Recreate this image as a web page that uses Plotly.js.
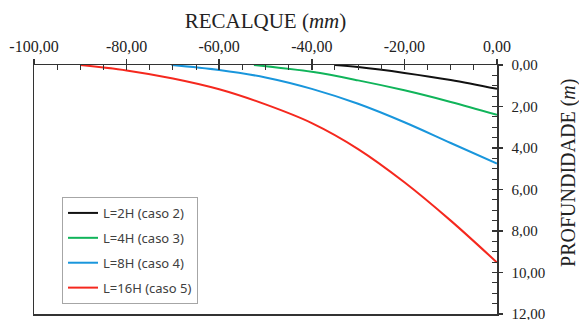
<!DOCTYPE html>
<html><head><meta charset="utf-8">
<script src="https://cdn.plot.ly/plotly-3.0.1.min.js"></script>
<style>html,body{margin:0;padding:0;background:#fff}#chart{width:579px;height:320px}</style>
</head><body><div id="chart"></div>
<script>
const seriesNames = ['L=2H (caso 2)', 'L=4H (caso 3)', 'L=8H (caso 4)', 'L=16H (caso 5)'];
const seriesColors = ['#111111', '#10b45a', '#1996dc', '#f5281e'];
const recalque2H = [-35, -30, -20, -10, 0];
const prof2H = [0, 0.1, 0.38, 0.72, 1.15];
const recalque4H = [-52.5, -40, -30, -20, -10, 0];
const prof4H = [0, 0.33, 0.74, 1.22, 1.78, 2.4];
const recalque8H = [-70.3, -60, -50, -40, -30, -20, -10, 0];
const prof8H = [0, 0.24, 0.6, 1.15, 1.87, 2.76, 3.76, 4.75];
const recalque16H = [-90, -80, -70, -60, -50, -40, -30, -20, -10, 0];
const prof16H = [0, 0.26, 0.65, 1.17, 1.9, 2.8, 4.05, 5.65, 7.5, 9.52];
const xTickVals = [-100, -80, -60, -40, -20, 0];
const yTickVals = [0, 2, 4, 6, 8, 10, 12];

const fmt = v => v.toFixed(2).replace('.', ',');
const xs = [recalque2H, recalque4H, recalque8H, recalque16H];
const ys = [prof2H, prof4H, prof8H, prof16H];
const traces = xs.map((x, i) => ({
  x: x, y: ys[i], type: 'scatter', mode: 'lines', name: seriesNames[i],
  legendgroup: 'g' + i,
  line: {color: seriesColors[i], width: 2, shape: 'spline', smoothing: 1}
}));
traces.push({x: [], y: [], xaxis: 'x2', yaxis: 'y2', showlegend: false, type: 'scatter'});

const serif = 'Liberation Serif, Times New Roman, serif';
const axisCol = '#333333';
const layout = {
  width: 579, height: 320,
  margin: {l: 34, r: 82, t: 65, b: 6},
  paper_bgcolor: '#fff', plot_bgcolor: '#fff',
  showlegend: true,
  legend: {
    x: 0.0605, y: 0.47, xanchor: 'left', yanchor: 'top',
    bgcolor: '#fff', bordercolor: '#a6a6a6', borderwidth: 1,
    font: {family: 'Noto Sans, sans-serif', size: 13, color: '#404040'},
    traceorder: 'grouped', tracegroupgap: 5, itemwidth: 30
  },
  xaxis: {
    side: 'top', range: [-100, 0], tickvals: xTickVals, ticktext: xTickVals.map(fmt),
    showgrid: false, zeroline: false, showline: true, linecolor: axisCol, linewidth: 1.5, mirror: true,
    ticks: 'inside', ticklen: 5, tickcolor: axisCol, tickwidth: 1.5,
    minor: {dtick: 5, ticks: 'inside', ticklen: 5, tickcolor: axisCol, tickwidth: 1},
    tickfont: {family: serif, size: 16, color: '#222'},
    ticklabelstandoff: 5, ticklabeloverflow: 'allow',
    title: {text: 'RECALQUE (<i>mm</i>)', font: {family: serif, size: 21, color: '#222'}, standoff: 3}
  },
  yaxis: {
    side: 'right', range: [12, 0], tickvals: yTickVals, ticktext: yTickVals.map(fmt),
    showgrid: false, zeroline: false, showline: true, linecolor: axisCol, linewidth: 1.5, mirror: true,
    ticks: 'inside', ticklen: 5, tickcolor: axisCol, tickwidth: 1.5,
    minor: {dtick: 0.5, ticks: 'inside', ticklen: 5, tickcolor: axisCol, tickwidth: 1},
    tickfont: {family: serif, size: 15, color: '#222'},
    ticklabelstandoff: 10, ticklabeloverflow: 'allow'
  },
  xaxis2: {overlaying: 'x', side: 'top', range: [-100, 0], tickvals: xTickVals, showticklabels: false,
    ticks: 'outside', ticklen: 5, tickcolor: axisCol, tickwidth: 1.5, showgrid: false, zeroline: false, showline: false},
  yaxis2: {overlaying: 'y', side: 'right', range: [12, 0], tickvals: yTickVals, showticklabels: false,
    ticks: 'outside', ticklen: 5, tickcolor: axisCol, tickwidth: 1.5, showgrid: false, zeroline: false, showline: false},
  annotations: [{
    text: 'PROFUNDIDADE (<i>m</i>)', xref: 'paper', yref: 'paper', x: 1.153, y: 0.566,
    xanchor: 'center', yanchor: 'middle', textangle: -90, showarrow: false,
    font: {family: serif, size: 20, color: '#222'}
  }]
};
Plotly.newPlot('chart', traces, layout, {displayModeBar: false, staticPlot: true});
</script></body></html>
